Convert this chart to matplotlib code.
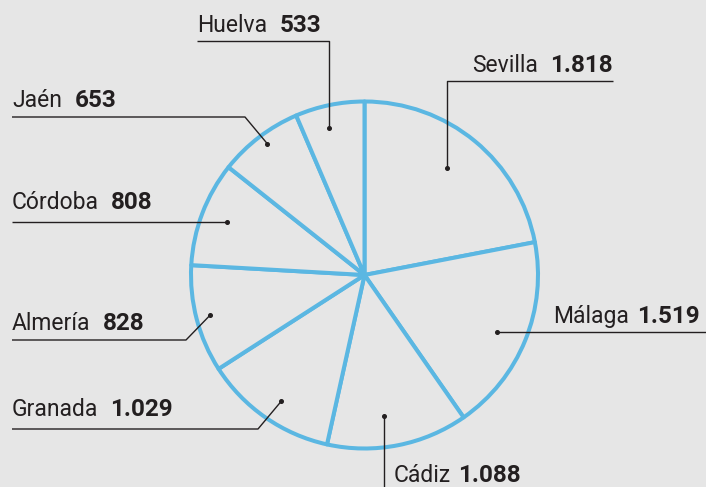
import math
import matplotlib
matplotlib.use("Agg")
import matplotlib.pyplot as plt
from matplotlib import font_manager as fm

# ---- data ----
provinces = ["Sevilla", "Málaga", "Cádiz", "Granada", "Almería", "Córdoba", "Jaén", "Huelva"]
values = [1818, 1519, 1088, 1029, 828, 808, 653, 533]
value_labels = [f"{v:,}".replace(",", ".") for v in values]

# ---- style / layout ----
W, H = 706, 487
BG = "#e6e6e6"
BLUE = "#5bb7e2"
INK = "#231f20"
CX, CY, R = 364.5, 275, 173.5  # image pixel coordinates (y from top)


def has_font(name):
    try:
        fm.findfont(fm.FontProperties(family=name), fallback_to_default=False)
        return True
    except Exception:
        return False


if has_font("Liberation Sans Narrow"):
    NAME_FONT, NAME_SIZE = ["Liberation Sans Narrow", "DejaVu Sans"], 18
else:
    NAME_FONT, NAME_SIZE = ["Roboto", "DejaVu Sans"], 16.5
NUM_FONT = ["Roboto", "DejaVu Sans"]
NUM_SIZE = 17.5

# per label: angle fraction within wedge, radius fraction, leader path, text anchor, baseline, align, gap
layout = {
    "Sevilla": dict(t=0.474, rf=0.78, path=[("x", 81), (613, 81)], tx=613, ty=72, ha="right", gap=12),
    "Málaga":  dict(t=0.519, rf=0.83, path=[(706, "y")], tx=700, ty=323, ha="right", gap=8),
    "Cádiz":   dict(t=0.573, rf=0.82, path=[("x", 487)], tx=394, ty=482, ha="left", gap=7),
    "Granada": dict(t=0.467, rf=0.87, path=[(258, 429), (12, 429)], tx=12, ty=416, ha="left", gap=12),
    "Almería": dict(t=0.504, rf=0.92, path=[(186, 340), (12, 340)], tx=12, ty=330, ha="left", gap=12),
    "Córdoba": dict(t=0.509, rf=0.85, path=[(12, "y")], tx=12, ty=209, ha="left", gap=12),
    "Jaén":    dict(t=0.531, rf=0.94, path=[(245, 117), (12, 117)], tx=12, ty=107, ha="left", gap=13),
    "Huelva":  dict(t=0.42, rf=0.87, path=[("x", 41), (197, 41)], tx=197, ty=32, ha="left", gap=13),
}


def Y(y):
    return H - y


fig = plt.figure(figsize=(W / 100, H / 100), dpi=100, facecolor=BG)
ax = fig.add_axes([0, 0, 1, 1])
ax.set_facecolor(BG)

wedges, _ = ax.pie(
    values, center=(CX, Y(CY)), radius=R, startangle=90, counterclock=False,
    wedgeprops=dict(facecolor=BG, edgecolor=BLUE, linewidth=2.9, joinstyle="round"),
)
ax.set_xlim(0, W)
ax.set_ylim(0, H)
ax.set_aspect("auto")
ax.axis("off")

fig.canvas.draw()
renderer = fig.canvas.get_renderer()

for w, name, vlab in zip(wedges, provinces, value_labels):
    L = layout[name]
    ang = w.theta2 - L["t"] * (w.theta2 - w.theta1)
    dx = CX + L["rf"] * R * math.cos(math.radians(ang))
    dy_img = CY - L["rf"] * R * math.sin(math.radians(ang))
    xs, ys = [dx], [dy_img]
    for px, py in L["path"]:
        xs.append(dx if px == "x" else px)
        ys.append(dy_img if py == "y" else py)
    ax.plot(xs, [Y(v) for v in ys], color=INK, lw=1.0, solid_capstyle="butt", zorder=5)
    ax.plot([dx], [Y(dy_img)], "o", color=INK, ms=2.6, zorder=6)

    if L["ha"] == "left":
        t1 = ax.text(L["tx"], Y(L["ty"]), name, family=NAME_FONT, fontsize=NAME_SIZE,
                     color=INK, ha="left", va="baseline")
        bb = t1.get_window_extent(renderer)
        ax.text(bb.x1 + L["gap"], Y(L["ty"]), vlab, family=NUM_FONT, fontweight="bold",
                fontsize=NUM_SIZE, color=INK, ha="left", va="baseline")
    else:
        t2 = ax.text(L["tx"], Y(L["ty"]), vlab, family=NUM_FONT, fontweight="bold",
                     fontsize=NUM_SIZE, color=INK, ha="right", va="baseline")
        bb = t2.get_window_extent(renderer)
        ax.text(bb.x0 - L["gap"], Y(L["ty"]), name, family=NAME_FONT, fontsize=NAME_SIZE,
                color=INK, ha="right", va="baseline")

fig.savefig("out.png", dpi=100, facecolor=BG)
